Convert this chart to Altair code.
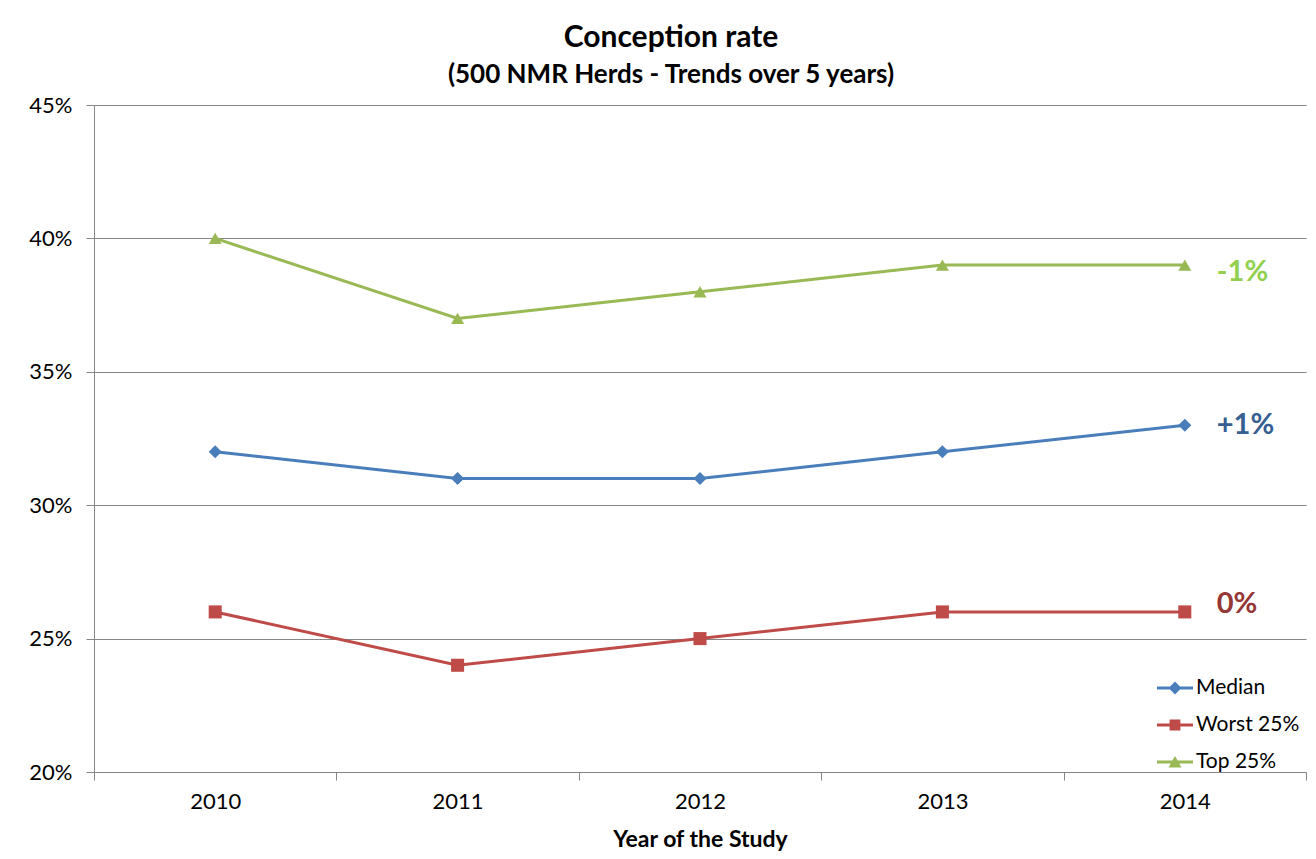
import altair as alt
import pandas as pd

years = ["2010", "2011", "2012", "2013", "2014"]
series = ["Median", "Worst 25%", "Top 25%"]
median = [32, 31, 31, 32, 33]
worst = [26, 24, 25, 26, 26]
top = [40, 37, 38, 39, 39]
line_colors = ["#4a7ebb", "#be4b48", "#98b954"]
shapes = ["diamond", "square", "triangle-up"]
legend_paths = [
    "M-1,-0.08L1,-0.08L1,0.08L-1,0.08Z M0,-0.36L0.36,0L0,0.36L-0.36,0Z",
    "M-1,-0.08L1,-0.08L1,0.08L-1,0.08Z M-0.3,-0.3L0.3,-0.3L0.3,0.3L-0.3,0.3Z",
    "M-1,-0.08L1,-0.08L1,0.08L-1,0.08Z M0,-0.34L0.36,0.3L-0.36,0.3Z",
]
change_labels = ["+1%", "0%", "-1%"]
change_label_y = [33.0, 26.3, 38.75]
change_colors = ["#376092", "#953735", "#92d050"]

rows = []
for s, vals in zip(series, [median, worst, top]):
    for y, v in zip(years, vals):
        rows.append({"year": y, "series": s, "value": v})
df = pd.DataFrame(rows)

lab_df = pd.DataFrame({
    "year": [years[-1]] * 3,
    "label": change_labels,
    "value": change_label_y,
    "series": series,
})

FONT = "Lato"

x_enc = alt.X(
    "year:O",
    bandPosition=0.5,
    scale=alt.Scale(type="band", paddingInner=0, paddingOuter=0, domain=years),
    axis=alt.Axis(
        title="Year of the Study",
        labelAngle=0,
        tickBand="extent",
        tickSize=8,
        labelPadding=11,
        titlePadding=16,
        grid=False,
    ),
)
y_enc = alt.Y(
    "value:Q",
    scale=alt.Scale(domain=[20, 45], nice=False, zero=False),
    axis=alt.Axis(
        title=None,
        values=[20, 25, 30, 35, 40, 45],
        labelExpr="datum.value + '%'",
        tickSize=8,
        labelPadding=14,
        grid=True,
    ),
)
color_scale = alt.Scale(domain=series, range=line_colors)

base = alt.Chart(df)

lines = base.mark_line(strokeWidth=3).encode(
    x=x_enc,
    y=y_enc,
    color=alt.Color("series:N", scale=color_scale, legend=None),
)

points = base.mark_point(filled=True, size=170, opacity=1).encode(
    x=x_enc,
    y=y_enc,
    color=alt.Color("series:N", scale=color_scale, legend=None),
    shape=alt.Shape("series:N", scale=alt.Scale(domain=series, range=shapes), legend=None),
)

leg = dict(
    title=None,
    orient="none",
    legendX=1063,
    legendY=565,
    symbolSize=1296,
    labelFontSize=21,
    labelFont=FONT,
    labelColor="#000000",
    labelOffset=3,
    rowPadding=9,
    padding=0,
    symbolStrokeWidth=0,
)

legend_layer = base.transform_filter("false").mark_point(filled=True, opacity=1).encode(
    x=x_enc,
    y=y_enc,
    color=alt.Color("series:N", scale=color_scale, legend=alt.Legend(**leg)),
    shape=alt.Shape(
        "series:N",
        scale=alt.Scale(domain=series, range=legend_paths),
        legend=alt.Legend(**leg),
    ),
)

labels = alt.Chart(lab_df).mark_text(
    align="left", baseline="middle", dx=32, fontSize=29, fontWeight="bold", font=FONT
).encode(
    x=x_enc,
    y=y_enc,
    text="label:N",
    color=alt.Color("label:N", scale=alt.Scale(domain=change_labels, range=change_colors), legend=None),
)

chart = (
    alt.layer(lines, points, legend_layer, labels)
    .resolve_scale(shape="independent", color="independent")
    .properties(
        width=1212,
        height=667,
        autosize=alt.AutoSizeParams(type="none"),
        padding={"left": 86, "top": 97, "right": 2, "bottom": 79},
        title=alt.TitleParams(
            text="Conception rate",
            subtitle="(500 NMR Herds - Trends over  5 years)",
            font=FONT,
            fontSize=30,
            fontWeight="bold",
            subtitleFont=FONT,
            subtitleFontSize=26,
            subtitleFontWeight="bold",
            subtitleColor="#000000",
            subtitlePadding=9,
            color="#000000",
            anchor="middle",
            dx=-29,
            offset=6,
        ),
    )
    .configure_view(stroke=None)
    .configure_axis(
        domainColor="#868686",
        tickColor="#868686",
        gridColor="#868686",
        labelFont=FONT,
        labelFontSize=22,
        labelColor="#000000",
        titleFont=FONT,
        titleFontSize=23,
        titleFontWeight="bold",
        titleColor="#000000",
    )
)

chart.save("out.html", embed_options={"renderer": "svg", "actions": False})
